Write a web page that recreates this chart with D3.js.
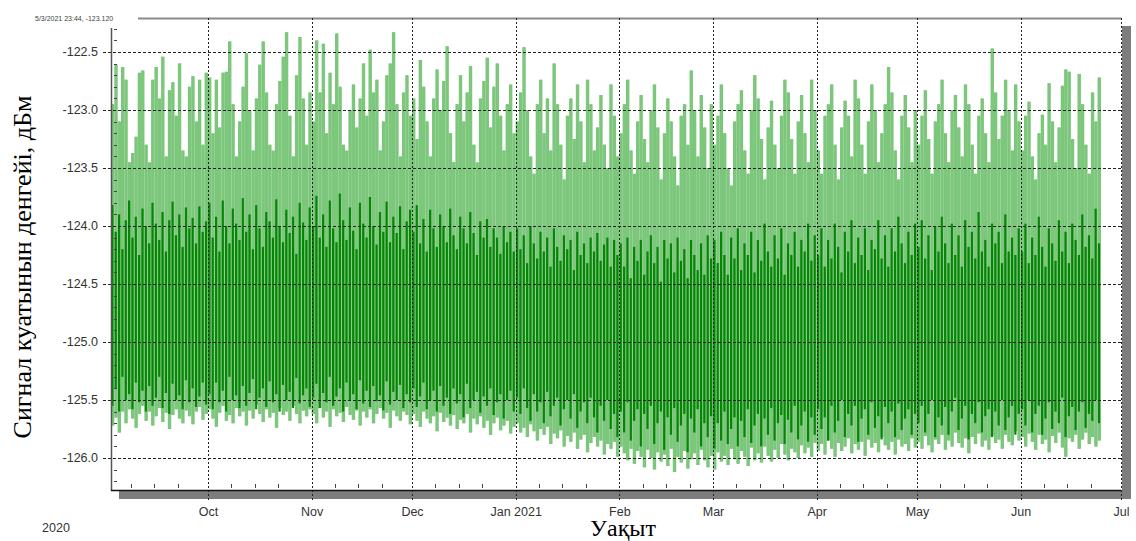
<!DOCTYPE html>
<html>
<head>
<meta charset="utf-8">
<script src="https://cdn.jsdelivr.net/npm/d3@7"></script>
<style>
  body { margin: 0; background: #fff; }
  svg { display: block; }
</style>
</head>
<body>
<svg id="chart" width="1136" height="541"></svg>
<script>
// Daily signal-level record, starting 2 Sep 2020 (one entry per day).
const startDate = new Date(2020, 8, 2);

// Highest reading of each day, dBm
const dayHigh = [
  // Sep (2..30)
  -122.95,-122.61,-123.10,-122.63,-122.74,-123.45,-123.37,-123.23,-122.68,-122.66,-123.30,-123.55,-122.74,-122.63,-122.90,-122.54,-123.40,-122.83,-122.76,-123.05,-122.60,-123.35,-123.50,-122.80,-122.71,-123.10,-122.74,-123.30,-122.68,
  // Oct
  -122.72,-123.20,-122.74,-123.15,-122.68,-122.67,-122.41,-122.95,-123.40,-123.10,-122.80,-122.51,-123.00,-123.35,-122.90,-122.61,-122.41,-122.85,-123.30,-123.45,-122.95,-122.75,-122.54,-122.33,-123.05,-123.40,-122.70,-122.37,-122.90,-123.30,-122.85,
  // Nov
  -123.10,-122.40,-122.85,-122.43,-123.20,-122.68,-122.95,-122.34,-122.80,-123.30,-123.45,-123.00,-122.78,-123.15,-122.90,-122.60,-123.05,-122.48,-122.85,-122.74,-123.35,-123.10,-122.70,-122.60,-122.33,-122.95,-123.40,-122.85,-122.70,-123.05,
  // Dec
  -122.90,-123.25,-122.57,-122.80,-123.10,-123.40,-122.90,-122.65,-123.00,-122.75,-122.45,-123.20,-123.45,-122.95,-122.70,-123.10,-122.85,-122.62,-123.30,-123.50,-122.90,-122.75,-122.55,-123.15,-122.80,-122.60,-123.05,-123.35,-122.95,-122.78,-123.20,
  // Jan
  -123.10,-122.85,-122.46,-123.00,-123.40,-123.55,-122.95,-122.74,-123.20,-122.90,-123.35,-122.60,-122.95,-123.30,-123.60,-123.05,-122.90,-123.25,-122.78,-123.10,-123.45,-122.74,-122.95,-123.35,-123.15,-122.87,-123.30,-123.50,-122.78,-123.05,-123.40,
  // Feb
  -123.20,-122.95,-122.74,-123.35,-123.55,-123.10,-122.87,-123.25,-123.45,-123.00,-122.78,-123.15,-123.60,-123.20,-122.90,-123.10,-123.40,-123.65,-123.05,-122.95,-123.30,-122.66,-123.00,-123.40,-122.87,-123.15,-123.50,-122.95,
  // Mar
  -123.30,-123.05,-122.78,-123.20,-123.50,-123.65,-123.10,-122.95,-122.83,-123.35,-123.55,-123.00,-122.70,-122.90,-123.25,-123.60,-123.15,-122.92,-123.30,-123.50,-123.05,-122.74,-122.85,-123.25,-123.55,-123.10,-122.87,-123.20,-123.45,-122.74,-123.00,
  // Apr
  -123.35,-123.55,-123.05,-122.95,-122.78,-123.30,-123.60,-123.15,-122.92,-123.05,-123.40,-122.74,-122.90,-123.30,-123.55,-123.10,-122.78,-123.00,-123.45,-123.20,-122.95,-122.63,-122.85,-123.35,-123.60,-123.05,-122.87,-123.15,-123.45,-123.00,
  // May
  -123.30,-123.05,-122.83,-123.25,-123.55,-123.10,-122.95,-122.74,-123.20,-123.45,-123.00,-122.87,-123.15,-123.40,-122.78,-122.95,-123.30,-123.55,-123.05,-122.90,-123.20,-123.45,-122.47,-122.85,-123.25,-123.05,-122.74,-123.00,-123.35,-122.78,-123.10,
  // Jun (1..24)
  -123.35,-123.05,-122.93,-123.40,-123.60,-123.20,-123.04,-123.30,-122.77,-123.10,-123.45,-123.15,-122.79,-122.65,-122.67,-123.25,-123.50,-122.69,-122.95,-123.30,-123.55,-122.85,-123.10,-122.72
];

// Lowest reading of each day, dBm
const dayLow = [
  -125.72,-125.65,-125.78,-125.60,-125.70,-125.58,-125.66,-125.74,-125.62,-125.55,-125.68,-125.60,-125.72,-125.64,-125.57,-125.69,-125.61,-125.75,-125.63,-125.58,-125.66,-125.70,-125.59,-125.64,-125.71,-125.60,-125.56,-125.67,-125.62,
  -125.58,-125.66,-125.73,-125.61,-125.55,-125.68,-125.63,-125.70,-125.57,-125.64,-125.60,-125.72,-125.59,-125.66,-125.54,-125.62,-125.69,-125.58,-125.65,-125.61,-125.74,-125.57,-125.63,-125.60,-125.68,-125.55,-125.62,-125.70,-125.59,-125.64,-125.58,
  -125.62,-125.70,-125.57,-125.65,-125.60,-125.73,-125.58,-125.64,-125.61,-125.69,-125.56,-125.63,-125.67,-125.59,-125.72,-125.60,-125.65,-125.58,-125.70,-125.62,-125.57,-125.66,-125.61,-125.74,-125.59,-125.64,-125.68,-125.60,-125.63,-125.71,
  -125.62,-125.68,-125.73,-125.60,-125.66,-125.70,-125.64,-125.77,-125.61,-125.69,-125.65,-125.72,-125.63,-125.75,-125.67,-125.70,-125.62,-125.78,-125.66,-125.71,-125.64,-125.74,-125.68,-125.80,-125.70,-125.65,-125.76,-125.72,-125.68,-125.79,-125.73,
  -125.70,-125.78,-125.74,-125.82,-125.71,-125.77,-125.85,-125.75,-125.80,-125.73,-125.88,-125.79,-125.83,-125.76,-125.90,-125.81,-125.86,-125.78,-125.92,-125.84,-125.80,-125.95,-125.87,-125.82,-125.90,-125.85,-125.97,-125.88,-125.92,-125.86,-125.99,
  -125.90,-125.96,-126.02,-125.92,-126.05,-125.94,-125.99,-126.08,-125.93,-126.00,-126.10,-125.95,-126.03,-125.97,-126.07,-125.92,-126.12,-125.99,-126.04,-125.94,-126.09,-126.01,-125.96,-126.06,-125.93,-126.02,-126.08,-125.98,
  -126.10,-125.95,-126.03,-125.98,-126.06,-125.92,-126.01,-126.05,-125.94,-125.99,-126.07,-125.91,-126.02,-125.96,-126.04,-125.90,-125.98,-126.03,-125.93,-126.00,-125.88,-125.97,-126.02,-125.92,-125.95,-126.00,-125.89,-125.96,-125.91,-125.99,-125.87,
  -125.94,-125.88,-125.97,-125.85,-125.92,-125.99,-125.87,-125.94,-125.90,-125.83,-125.96,-125.88,-125.93,-125.86,-125.98,-125.84,-125.91,-125.87,-125.95,-125.82,-125.89,-125.93,-125.86,-125.97,-125.84,-125.90,-125.88,-125.94,-125.83,-125.91,
  -125.86,-125.92,-125.81,-125.89,-125.95,-125.84,-125.88,-125.80,-125.93,-125.85,-125.90,-125.78,-125.87,-125.91,-125.83,-125.96,-125.82,-125.88,-125.79,-125.90,-125.85,-125.93,-125.81,-125.87,-125.84,-125.92,-125.80,-125.86,-125.89,-125.77,-125.85,
  -125.82,-125.90,-125.79,-125.86,-125.93,-125.80,-125.88,-125.84,-125.95,-125.81,-125.87,-125.78,-125.91,-125.99,-125.83,-125.86,-125.80,-125.92,-125.84,-125.78,-125.88,-125.82,-125.90,-125.85
];

// Upper edge of the dense band of readings, dBm
const coreHigh = [
  -123.82,-124.05,-123.90,-124.20,-123.95,-123.78,-124.10,-123.92,-124.25,-123.85,-124.00,-124.15,-123.80,-123.98,-124.12,-123.88,-124.22,-123.95,-123.79,-124.08,-123.90,-124.18,-123.84,-124.02,-123.93,-124.15,-123.83,-124.05,-123.96,
  -123.80,-124.10,-123.92,-124.22,-123.78,-124.00,-124.15,-123.85,-123.98,-124.12,-123.76,-124.05,-123.90,-124.20,-123.82,-124.02,-124.18,-123.88,-123.96,-124.10,-123.77,-124.00,-124.14,-123.86,-124.06,-123.92,-124.24,-123.80,-123.97,-124.12,-123.84,
  -124.00,-123.74,-124.10,-123.90,-124.18,-123.78,-124.02,-124.14,-123.72,-123.95,-124.12,-123.84,-124.04,-124.20,-123.80,-123.98,-124.10,-123.75,-124.00,-124.16,-123.88,-124.05,-123.79,-124.14,-123.92,-124.06,-123.83,-124.20,-123.96,-123.86,
  -124.05,-123.82,-124.15,-123.94,-124.22,-123.86,-124.02,-124.18,-123.90,-124.00,-124.14,-123.85,-124.08,-124.20,-123.92,-124.02,-124.15,-123.88,-124.06,-124.25,-123.96,-124.10,-123.94,-124.18,-124.02,-124.10,-124.24,-124.00,-124.14,-124.05,-124.22,
  -124.02,-124.20,-124.08,-124.32,-124.00,-124.15,-124.28,-124.05,-124.22,-124.10,-124.35,-124.02,-124.18,-124.30,-124.08,-124.20,-124.12,-124.38,-124.05,-124.25,-124.15,-124.32,-124.10,-124.22,-124.06,-124.30,-124.16,-124.10,-124.35,-124.12,-124.25,
  -124.15,-124.35,-124.10,-124.45,-124.18,-124.30,-124.12,-124.42,-124.22,-124.08,-124.32,-124.18,-124.48,-124.12,-124.28,-124.15,-124.40,-124.10,-124.30,-124.20,-124.45,-124.12,-124.25,-124.38,-124.15,-124.42,-124.08,-124.28,
  -124.12,-124.32,-124.05,-124.25,-124.42,-124.10,-124.28,-124.02,-124.38,-124.15,-124.25,-124.05,-124.40,-124.12,-124.30,-123.98,-124.22,-124.35,-124.08,-124.28,-124.02,-124.42,-124.15,-124.25,-124.05,-124.35,-124.12,-124.22,-123.98,-124.30,-124.08,
  -124.25,-124.02,-124.35,-124.12,-124.28,-123.98,-124.18,-124.40,-124.05,-124.22,-123.95,-124.32,-124.10,-124.25,-124.02,-124.38,-124.12,-124.20,-123.95,-124.28,-124.08,-124.35,-124.02,-124.22,-123.92,-124.15,-124.32,-124.05,-124.25,-123.98,
  -124.18,-123.95,-124.28,-124.08,-124.38,-124.00,-124.22,-123.92,-124.15,-124.32,-123.98,-124.25,-124.08,-124.35,-123.95,-124.18,-124.05,-124.28,-123.88,-124.22,-124.12,-124.35,-123.98,-124.15,-124.05,-124.32,-123.90,-124.22,-124.10,-124.25,-124.02,
  -124.22,-123.98,-124.32,-124.10,-124.25,-123.92,-124.18,-124.35,-124.02,-124.15,-124.30,-123.95,-124.22,-124.05,-124.32,-123.98,-124.12,-124.25,-123.90,-124.18,-124.08,-124.28,-123.85,-124.15
];

// Lower edge of the dense band of readings, dBm
const coreLow = [
  -125.55,-125.40,-125.60,-125.30,-125.50,-125.45,-125.58,-125.35,-125.52,-125.42,-125.60,-125.38,-125.55,-125.48,-125.30,-125.57,-125.44,-125.62,-125.36,-125.50,-125.46,-125.58,-125.33,-125.52,-125.40,-125.56,-125.47,-125.35,-125.54,
  -125.45,-125.58,-125.35,-125.52,-125.42,-125.60,-125.30,-125.50,-125.46,-125.57,-125.38,-125.55,-125.44,-125.32,-125.58,-125.48,-125.40,-125.56,-125.34,-125.52,-125.45,-125.60,-125.37,-125.50,-125.43,-125.57,-125.31,-125.53,-125.46,-125.40,-125.56,
  -125.48,-125.36,-125.57,-125.44,-125.52,-125.30,-125.55,-125.47,-125.40,-125.60,-125.35,-125.50,-125.45,-125.58,-125.33,-125.53,-125.42,-125.56,-125.38,-125.51,-125.46,-125.59,-125.34,-125.54,-125.43,-125.50,-125.37,-125.57,-125.45,-125.52,
  -125.40,-125.56,-125.47,-125.35,-125.58,-125.50,-125.42,-125.60,-125.38,-125.55,-125.48,-125.62,-125.40,-125.53,-125.45,-125.65,-125.36,-125.57,-125.50,-125.43,-125.61,-125.47,-125.55,-125.40,-125.63,-125.52,-125.45,-125.66,-125.50,-125.42,-125.60,
  -125.48,-125.62,-125.40,-125.57,-125.68,-125.45,-125.60,-125.52,-125.70,-125.43,-125.64,-125.55,-125.48,-125.72,-125.58,-125.50,-125.66,-125.45,-125.74,-125.60,-125.52,-125.70,-125.48,-125.65,-125.78,-125.55,-125.68,-125.50,-125.75,-125.62,-125.82,
  -125.60,-125.78,-125.52,-125.85,-125.68,-125.58,-125.90,-125.62,-125.75,-125.55,-125.88,-125.70,-125.60,-125.93,-125.65,-125.80,-125.57,-125.86,-125.72,-125.62,-125.95,-125.66,-125.78,-125.58,-125.90,-125.70,-125.82,-125.64,
  -125.92,-125.70,-125.85,-125.60,-125.88,-125.75,-125.65,-125.90,-125.68,-125.82,-125.58,-125.87,-125.72,-125.62,-125.90,-125.66,-125.80,-125.57,-125.85,-125.70,-125.63,-125.88,-125.67,-125.78,-125.55,-125.84,-125.72,-125.60,-125.86,-125.65,-125.80,
  -125.58,-125.75,-125.65,-125.85,-125.55,-125.78,-125.68,-125.50,-125.82,-125.62,-125.72,-125.55,-125.86,-125.66,-125.58,-125.80,-125.52,-125.74,-125.64,-125.84,-125.56,-125.70,-125.60,-125.82,-125.53,-125.76,-125.66,-125.58,-125.80,-125.62,
  -125.70,-125.55,-125.78,-125.62,-125.50,-125.82,-125.65,-125.72,-125.56,-125.80,-125.60,-125.48,-125.76,-125.66,-125.55,-125.84,-125.62,-125.70,-125.52,-125.78,-125.64,-125.58,-125.82,-125.60,-125.72,-125.50,-125.76,-125.65,-125.55,-125.80,-125.62,
  -125.58,-125.72,-125.50,-125.78,-125.62,-125.55,-125.80,-125.66,-125.52,-125.75,-125.60,-125.70,-125.48,-125.82,-125.64,-125.56,-125.76,-125.60,-125.52,-125.74,-125.62,-125.68,-125.50,-125.70
];

// Weekly level below which the readings leave no gaps, dBm (week 0 starts 2 Sep 2020)
const weekFloor = [
  -123.55,-123.45,-123.50,-123.40,-123.45,-123.40,-123.35,-123.45,-123.40,-123.40,-123.35,
  -123.45,-123.40,-123.45,-123.50,-123.45,-123.55,-123.60,-123.65,-123.70,-123.75,-123.75,
  -123.80,-123.85,-123.80,-123.90,-123.85,-123.80,-123.75,-123.80,-123.75,-123.70,-123.75,
  -123.65,-123.70,-123.65,-123.70,-123.60,-123.65,-123.70,-123.65,-123.60,-123.65
];

const yTicks = [-122.5, -123.0, -123.5, -124.0, -124.5, -125.0, -125.5, -126.0];
const monthTicks = ["2020-10-01","2020-11-01","2020-12-01","2021-01-01","2021-02-01","2021-03-01","2021-04-01","2021-05-01","2021-06-01","2021-07-01"];
const monthLabels = ["Oct","Nov","Dec","Jan 2021","Feb","Mar","Apr","May","Jun","Jul"];
const minorDays = [8, 15, 22];

const W = 1136, H = 541;
const plot = { left: 111, right: 1121, top: 18, bottom: 490 };

const svg = d3.select("#chart");
svg.append("rect").attr("width", W).attr("height", H).attr("fill", "#fff");

const parse = d3.timeParse("%Y-%m-%d");
const monthDates = monthTicks.map(parse);

const x = d3.scaleTime()
  .domain([new Date(2020, 8, 2), new Date(2021, 6, 1)])
  .range([plot.left, plot.right]);
const y = d3.scaleLinear()
  .domain([-126.276, -122.207])
  .range([plot.bottom, plot.top]);

const days = dayHigh.map((v, i) => ({
  date: d3.timeDay.offset(startDate, i),
  hi: v, lo: dayLow[i], chi: coreHigh[i], clo: coreLow[i],
  floor: Math.max(v, weekFloor[Math.floor(i / 7)])
}));
const dayWidth = x(d3.timeDay.offset(startDate, 1)) - x(startDate);

// frame shadow (right and bottom)
svg.append("rect").attr("x", 1122).attr("y", 26).attr("width", 9).attr("height", 473).attr("fill", "#7d7d7d");
svg.append("rect").attr("x", 119).attr("y", 491).attr("width", 1012).attr("height", 8).attr("fill", "#7d7d7d");

// top frame line
svg.append("line").attr("x1", 138).attr("x2", plot.right).attr("y1", 18.5).attr("y2", 18.5)
  .attr("stroke", "#8a8a8a").attr("stroke-width", 2);

svg.append("clipPath").attr("id", "plotclip")
  .append("rect").attr("x", plot.left + 1).attr("y", plot.top).attr("width", plot.right - plot.left - 1).attr("height", plot.bottom - plot.top);

const series = svg.append("g").attr("clip-path", "url(#plotclip)");
const lightGreen = "#7dc77d";

// gap-free part of each day's range
series.selectAll("line.fill").data(days).join("line")
  .attr("class", "fill")
  .attr("x1", d => x(d3.timeHour.offset(d.date, 12)))
  .attr("x2", d => x(d3.timeHour.offset(d.date, 12)))
  .attr("y1", d => y(d.lo)).attr("y2", d => y(d.floor))
  .attr("stroke", lightGreen).attr("stroke-width", dayWidth + 0.1);

// full daily range as a thin spike
series.selectAll("line.range").data(days).join("line")
  .attr("class", "range")
  .attr("x1", d => x(d3.timeHour.offset(d.date, 12)))
  .attr("x2", d => x(d3.timeHour.offset(d.date, 12)))
  .attr("y1", d => y(d.lo)).attr("y2", d => y(d.hi))
  .attr("stroke", lightGreen).attr("stroke-width", 2);

// dense band, dark green
series.selectAll("line.core").data(days).join("line")
  .attr("class", "core")
  .attr("x1", d => x(d3.timeHour.offset(d.date, 10)))
  .attr("x2", d => x(d3.timeHour.offset(d.date, 10)))
  .attr("y1", d => y(d.clo)).attr("y2", d => y(d.chi))
  .attr("stroke", "#068506").attr("stroke-width", 2.2);

// horizontal grid
svg.append("g").selectAll("line").data(yTicks).join("line")
  .attr("x1", 103).attr("x2", plot.right)
  .attr("y1", d => Math.round(y(d)) + 0.5).attr("y2", d => Math.round(y(d)) + 0.5)
  .attr("stroke", "#222").attr("stroke-width", 1).attr("stroke-dasharray", "3,2");

// vertical grid at month starts
svg.append("g").selectAll("line").data(monthDates).join("line")
  .attr("x1", d => Math.round(x(d)) + 0.5).attr("x2", d => Math.round(x(d)) + 0.5)
  .attr("y1", plot.top).attr("y2", 502)
  .attr("stroke", "#222").attr("stroke-width", 1).attr("stroke-dasharray", "2,2");

// minor y ticks every 0.1
const minorY = d3.range(-1262, -1222).map(v => v / 10).filter(v => Math.abs(v * 2 - Math.round(v * 2)) > 1e-6);
svg.append("g").selectAll("line").data(minorY).join("line")
  .attr("x1", 114).attr("x2", 117)
  .attr("y1", d => Math.round(y(d)) + 0.5).attr("y2", d => Math.round(y(d)) + 0.5)
  .attr("stroke", "#444").attr("stroke-width", 1);

// minor x ticks (8th, 15th, 22nd of each month)
const minorX = [];
d3.timeMonth.range(new Date(2020, 8, 1), new Date(2021, 6, 1)).forEach(m => {
  minorDays.forEach(dd => minorX.push(new Date(m.getFullYear(), m.getMonth(), dd)));
});
svg.append("g").selectAll("line").data(minorX.filter(d => x(d) > plot.left + 3)).join("line")
  .attr("x1", d => Math.round(x(d)) + 0.5).attr("x2", d => Math.round(x(d)) + 0.5)
  .attr("y1", 484).attr("y2", 488)
  .attr("stroke", "#444").attr("stroke-width", 1);

// axis lines
svg.append("line").attr("x1", plot.left + 0.5).attr("x2", plot.left + 0.5).attr("y1", 28).attr("y2", plot.bottom + 1)
  .attr("stroke", "#555").attr("stroke-width", 1.5);
svg.append("line").attr("x1", plot.left).attr("x2", plot.right).attr("y1", plot.bottom + 0.5).attr("y2", plot.bottom + 0.5)
  .attr("stroke", "#111").attr("stroke-width", 1.5);

// y tick labels
const yAxis = svg.append("g").attr("transform", `translate(${plot.left},0)`)
  .call(d3.axisLeft(y).tickValues(yTicks).tickSize(0).tickPadding(13).tickFormat(d => d.toFixed(1)));
yAxis.select(".domain").remove();
yAxis.selectAll("text").attr("font-family", "Liberation Sans, Arial, sans-serif").attr("font-size", 12.5).attr("fill", "#333");

// x tick labels
const xAxis = svg.append("g").attr("transform", `translate(0,${plot.bottom})`)
  .call(d3.axisBottom(x).tickValues(monthDates).tickSize(0).tickPadding(17)
    .tickFormat((d, i) => monthLabels[i]));
xAxis.select(".domain").remove();
xAxis.selectAll("text").attr("font-family", "Liberation Sans, Arial, sans-serif").attr("font-size", 12.5).attr("fill", "#333");

svg.append("text").attr("x", 56).attr("y", 532).attr("text-anchor", "middle")
  .attr("font-family", "Liberation Sans, Arial, sans-serif").attr("font-size", 12.5).attr("fill", "#333")
  .text("2020");

// cursor readout
svg.append("text").attr("x", 35).attr("y", 21)
  .attr("font-family", "Liberation Sans, Arial, sans-serif").attr("font-size", 7).attr("fill", "#444")
  .text("5/3/2021 23:44, -123.120");

// axis titles
svg.append("text").attr("transform", "translate(31,267) rotate(-90)").attr("text-anchor", "middle")
  .attr("font-family", "Liberation Serif, Times New Roman, serif").attr("font-size", 26).attr("fill", "#000")
  .text("Сигнал куатынын денгейі, дБм");
svg.append("text").attr("x", 623).attr("y", 536).attr("text-anchor", "middle")
  .attr("font-family", "Liberation Serif, Times New Roman, serif").attr("font-size", 24).attr("fill", "#000")
  .text("Уақыт");
</script>
</body>
</html>
